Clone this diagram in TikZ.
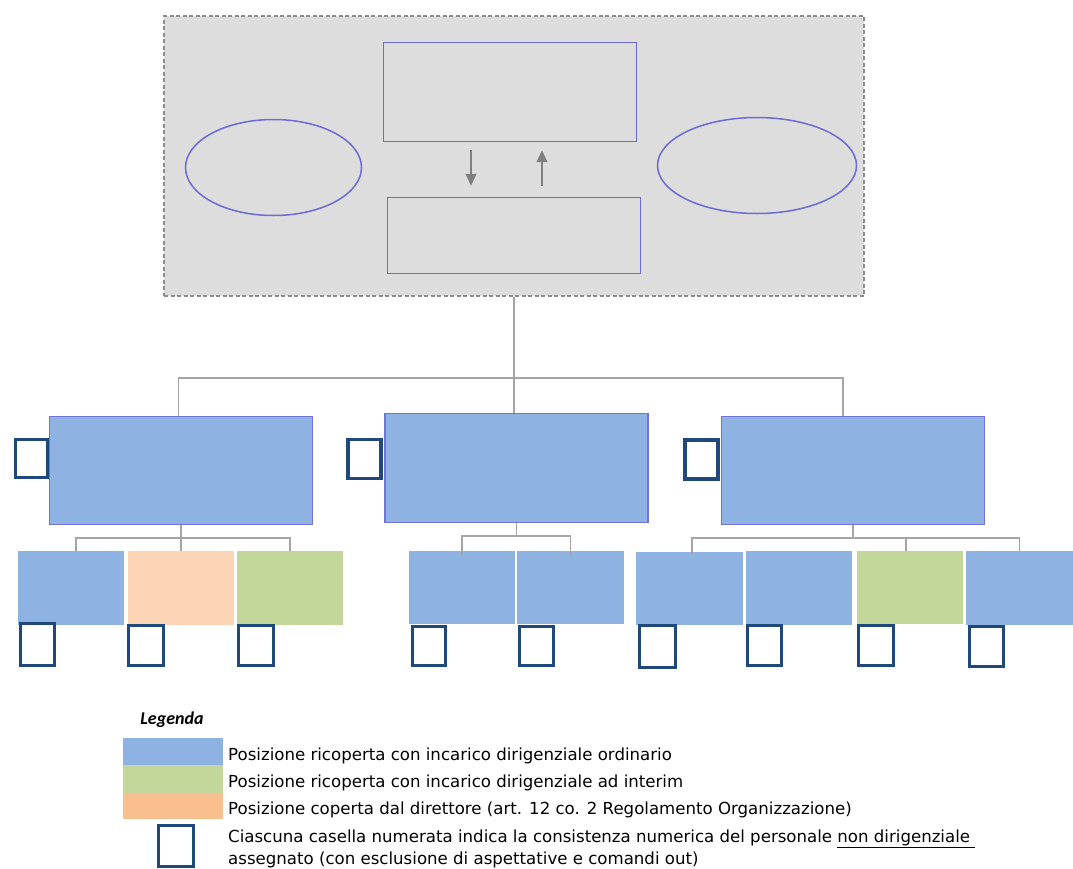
\documentclass[tikz,border=0pt]{standalone}
\usepackage{fontspec}
\setmainfont{DejaVu Sans}
\newfontfamily\legfont{Carlito}
\usetikzlibrary{arrows.meta,shapes.geometric,calc}
\definecolor{bluefill}{HTML}{8EB2E1}
\definecolor{orgfill}{HTML}{DDDDDD}
\definecolor{dashgray}{HTML}{8C8C8C}
\definecolor{violet}{HTML}{6A6AD8}
\definecolor{bigborder}{HTML}{7373D5}
\definecolor{orangeL}{HTML}{FBD5B5}
\definecolor{orangeD}{HTML}{F9BF8F}
\definecolor{greenF}{HTML}{C4D79B}
\definecolor{sqblue}{HTML}{1F497D}
\definecolor{conngray}{HTML}{A5A5A5}
\definecolor{arrgray}{HTML}{7F7F7F}
\begin{document}
\begin{tikzpicture}[x=1pt,y=-1pt,
  orgbox/.style={draw=dashgray,fill=orgfill,line width=2pt,dash pattern=on 4pt off 2.5pt,rectangle,inner sep=0pt},
  inbox/.style={draw=violet,line width=1.2pt,rectangle,inner sep=0pt},
  inell/.style={draw=violet,line width=1.5pt,ellipse,inner sep=0pt},
  bigbox/.style={draw=bigborder,fill=bluefill,line width=1.4pt,rectangle,inner sep=0pt,minimum width=263pt,minimum height=108pt},
  subbox/.style={rectangle,inner sep=0pt,minimum width=106pt,minimum height=74pt},
  numsq/.style={draw=sqblue,fill=white,line width=3.3pt,rectangle,inner sep=0pt,minimum width=33.5pt,minimum height=39.5pt},
  conn/.style={draw=conngray,line width=1.5pt},
  arr/.style={draw=arrgray,line width=2pt,-{Triangle[length=12pt,width=10.5pt]}},
  swatch/.style={rectangle,inner sep=0pt,minimum width=100pt},
  legtext/.style={anchor=base west,inner sep=0pt,font=\fontsize{16.6}{19}\selectfont}
]
\useasboundingbox (0,0) rectangle (1073,868);

% top block
\node[orgbox,minimum width=700pt,minimum height=280pt] (org) at (514,156) {};
\node[inbox,minimum width=253pt,minimum height=99pt] (top) at (510,92) {};
\node[inbox,minimum width=253pt,minimum height=76pt] (bot) at (514,235.5) {};
\node[inell,minimum width=176pt,minimum height=96pt] (ell1) at (273.5,167.5) {};
\node[inell,minimum width=199pt,minimum height=96pt] (ell2) at (757,165.5) {};
\draw[arr,shorten <=8pt,shorten >=11pt] ([xshift=-39pt]top.south) -- ([xshift=-39pt]top.south |- bot.north);
\draw[arr,shorten <=11pt,shorten >=8pt] ([xshift=32pt]top.south |- bot.north) -- ([xshift=32pt]top.south);

% level 1
\node[bigbox] (b1) at (181,470.5) {};
\node[bigbox,minimum height=109pt] (b2) at (516.5,468) {};
\node[bigbox] (b3) at (853,470.5) {};
\node[numsq,minimum width=32pt,minimum height=38pt] (q1) at (31.5,458.5) {};
\node[numsq,minimum width=33pt,minimum height=38.5pt] (q2) at (364.5,459) {};
\node[numsq,minimum width=33pt,minimum height=39pt] (q3) at (701.5,459.5) {};

\coordinate (bus) at (514,378);
\draw[conn] (org.south) -- (bus);
\draw[conn] (bus) -| ([xshift=-2.5pt]b1.north);
\draw[conn] (bus) -- (bus |- b2.north);
\draw[conn] (bus) -| ([xshift=-10pt]b3.north);

% level 2
\node[subbox,fill=bluefill] (s11) at (71,588) {};
\node[subbox,fill=orangeL] (s12) at (181,588) {};
\node[subbox,fill=greenF] (s13) at (290,588) {};
\node[subbox,fill=bluefill,minimum height=73pt] (s21) at (462,587.5) {};
\node[subbox,fill=bluefill,minimum width=107pt,minimum height=73pt] (s22) at (570.5,587.5) {};
\node[subbox,fill=bluefill,minimum width=107pt,minimum height=73pt] (s31) at (689.5,588.5) {};
\node[subbox,fill=bluefill] (s32) at (799,588) {};
\node[subbox,fill=greenF,minimum height=73pt] (s33) at (910,587.5) {};
\node[subbox,fill=bluefill,minimum width=107pt] (s34) at (1019.5,588) {};

\draw[conn] (b1.south) -- ++(0,13) coordinate (j1);
\draw[conn] (j1) -| ([xshift=5pt]s11.north);
\draw[conn] (j1) -- (j1 |- s12.north);
\draw[conn] (j1) -| (s13.north);
\draw[conn] (b2.south) -- ++(0,13) coordinate (j2);
\draw[conn] (j2) -| ([yshift=-4pt]s21.north);
\draw[conn] (j2) -| ([yshift=-4pt]s22.north);
\draw[conn] (b3.south) -- ++(0,13) coordinate (j3);
\draw[conn] (j3) -| ([xshift=2.5pt,yshift=-3pt]s31.north);
\draw[conn] (j3) -| ([xshift=-4pt]s33.north);
\draw[conn] (j3) -| (s34.north);

\node[numsq,minimum height=41.5pt] (p11) at (37.5,644.5) {};
\node[numsq,minimum width=34.5pt] (p12) at (146,645.5) {};
\node[numsq,minimum width=34.5pt] (p13) at (256,645.5) {};
\node[numsq] (p21) at (429,646) {};
\node[numsq] (p22) at (536.5,646) {};
\node[numsq,minimum width=35.5pt,minimum height=41.5pt] (p31) at (657.5,646.5) {};
\node[numsq] (p32) at (764.5,645.5) {};
\node[numsq,minimum width=34.5pt] (p33) at (876,645.5) {};
\node[numsq] (p34) at (986.5,646.5) {};

% legend
\node[inner sep=0pt,font=\legfont\bfseries\itshape\fontsize{18}{20}\selectfont] (leg) at (172,720) {Legenda};
\node[swatch,fill=bluefill,minimum height=27pt] (l1) at (173,751.5) {};
\node[swatch,fill=greenF,minimum height=28pt] (l2) at (173,779) {};
\node[swatch,fill=orangeD,minimum height=26pt] (l3) at (173,806) {};
\node[numsq,minimum width=34.7pt,minimum height=40.7pt] (l4) at (176,846) {};
\node[legtext] (t1) at (228,760) {Posizione ricoperta con incarico dirigenziale ordinario};
\node[legtext] (t2) at (228,787) {Posizione ricoperta con incarico dirigenziale ad interim};
\node[legtext] (t3) at (228,814.5) {Posizione coperta dal direttore (art. 12 co. 2 Regolamento Organizzazione)};
\node[legtext] (t4) at (228,842) {Ciascuna casella numerata indica la consistenza numerica del personale \underline{non dirigenziale\ }};
\node[legtext] (t5) at (228,864) {assegnato (con esclusione di aspettative e comandi out)};
\end{tikzpicture}
\end{document}
